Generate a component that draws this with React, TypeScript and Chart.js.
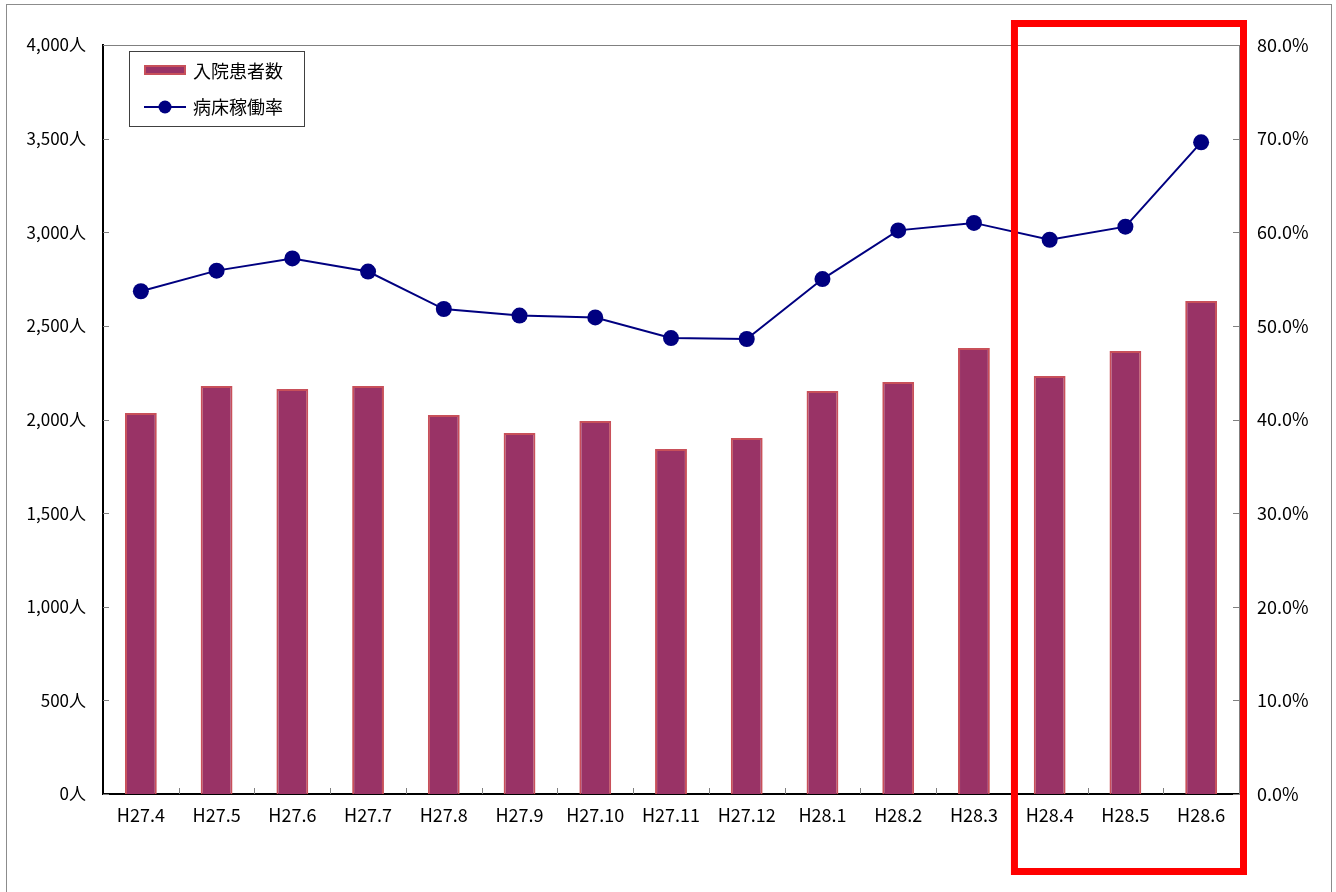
import React, { useEffect, useRef } from 'react';
import { Chart, registerables } from 'chart.js';

Chart.register(...registerables);

const categories = ['H27.4', 'H27.5', 'H27.6', 'H27.7', 'H27.8', 'H27.9', 'H27.10', 'H27.11', 'H27.12', 'H28.1', 'H28.2', 'H28.3', 'H28.4', 'H28.5', 'H28.6'];
const inpatients = [2035, 2179, 2163, 2179, 2024, 1928, 1992, 1842, 1901, 2152, 2200, 2382, 2232, 2366, 2633];
const occupancy = [53.7, 55.9, 57.2, 55.8, 51.8, 51.1, 50.9, 48.7, 48.6, 55.0, 60.2, 61.0, 59.2, 60.6, 69.6];
const seriesNames = ['入院患者数', '病床稼働率'];
const leftAxis = { min: 0, max: 4000, step: 500, unit: '人' };
const rightAxis = { min: 0, max: 80, step: 10, unit: '%' };
const highlightStart = 12; // H28.4

const FONT = "'Noto Sans CJK JP', 'Noto Sans', sans-serif";
const BAR_FILL = '#993366';
const BAR_BORDER = '#c8505a';
const LINE_COLOR = '#000080';

const overlayPlugin = {
  id: 'overlay',
  beforeDraw(chart: any) {
    const ctx = chart.ctx;
    ctx.save();
    ctx.fillStyle = '#ffffff';
    ctx.fillRect(0, 0, chart.width, chart.height);
    ctx.strokeStyle = '#8c8c8c';
    ctx.lineWidth = 1;
    ctx.strokeRect(6.5, 4.5, chart.width - 11, chart.height + 20);
    ctx.restore();
  },
  afterDraw(chart: any) {
    const ctx = chart.ctx;
    const { left, right, top, bottom } = chart.chartArea;
    const xs = chart.scales.x;
    const ys = chart.scales.y;
    const y1 = chart.scales.y1;
    const n = categories.length;
    const catW = (right - left) / n;
    ctx.save();
    // top border
    ctx.strokeStyle = '#808080';
    ctx.lineWidth = 1;
    ctx.beginPath();
    ctx.moveTo(left, Math.round(top) + 0.5);
    ctx.lineTo(right, Math.round(top) + 0.5);
    ctx.stroke();
    // inward tick marks
    ctx.beginPath();
    ys.ticks.forEach((t: any) => {
      const py = Math.round(ys.getPixelForValue(t.value)) + 0.5;
      ctx.moveTo(left, py);
      ctx.lineTo(left + 6, py);
    });
    y1.ticks.forEach((t: any) => {
      const py = Math.round(y1.getPixelForValue(t.value)) + 0.5;
      ctx.moveTo(right - 6, py);
      ctx.lineTo(right, py);
    });
    for (let i = 1; i < n; i++) {
      const px = Math.round(left + i * catW) + 0.5;
      ctx.moveTo(px, bottom);
      ctx.lineTo(px, bottom - 6);
    }
    ctx.stroke();

    // legend
    const lx = left + 26;
    const ly = top + 6;
    ctx.fillStyle = '#ffffff';
    ctx.fillRect(lx, ly, 175, 75);
    ctx.strokeStyle = '#404040';
    ctx.lineWidth = 1;
    ctx.strokeRect(Math.round(lx) + 0.5, Math.round(ly) + 0.5, 175, 75);
    // bar swatch
    ctx.fillStyle = BAR_FILL;
    ctx.fillRect(lx + 15, ly + 14, 42, 10);
    ctx.strokeStyle = BAR_BORDER;
    ctx.lineWidth = 2;
    ctx.strokeRect(lx + 16, ly + 15, 40, 8);
    // line swatch
    ctx.strokeStyle = LINE_COLOR;
    ctx.lineWidth = 2;
    ctx.beginPath();
    ctx.moveTo(lx + 15, ly + 56);
    ctx.lineTo(lx + 57, ly + 56);
    ctx.stroke();
    ctx.fillStyle = LINE_COLOR;
    ctx.beginPath();
    ctx.arc(lx + 36, ly + 56, 6.5, 0, Math.PI * 2);
    ctx.fill();
    ctx.fillStyle = '#000000';
    ctx.font = `18px ${FONT}`;
    ctx.textBaseline = 'middle';
    ctx.textAlign = 'left';
    ctx.fillText(seriesNames[0], lx + 64, ly + 20);
    ctx.fillText(seriesNames[1], lx + 64, ly + 56);

    // highlight rectangle
    const x1 = xs.getPixelForValue(highlightStart) - 0.465 * catW;
    const x2 = right + 4.5;
    const ry1 = top - 21.5;
    const ry2 = bottom + 77.5;
    ctx.strokeStyle = '#ff0000';
    ctx.lineWidth = 7;
    ctx.strokeRect(x1, ry1, x2 - x1, ry2 - ry1);
    ctx.restore();
  },
};

export default function App() {
  const ref = useRef<HTMLCanvasElement | null>(null);
  useEffect(() => {
    document.body.style.margin = '0';
    document.body.style.overflow = 'hidden';
    const canvas = ref.current;
    if (!canvas) return;
    const chart = new Chart(canvas, {
      type: 'bar',
      data: {
        labels: categories,
        datasets: [
          {
            type: 'line',
            label: seriesNames[1],
            data: occupancy,
            yAxisID: 'y1',
            borderColor: LINE_COLOR,
            backgroundColor: LINE_COLOR,
            borderWidth: 2,
            pointRadius: 8,
            pointHoverRadius: 8,
            pointBackgroundColor: LINE_COLOR,
            pointBorderWidth: 0,
            tension: 0,
            order: 1,
          } as any,
          {
            type: 'bar',
            label: seriesNames[0],
            data: inpatients,
            yAxisID: 'y',
            backgroundColor: BAR_FILL,
            borderColor: BAR_BORDER,
            borderWidth: 2,
            borderSkipped: 'bottom',
            categoryPercentage: 1,
            barPercentage: 0.42,
            order: 2,
          } as any,
        ],
      },
      options: {
        animation: false,
        responsive: true,
        maintainAspectRatio: false,
        layout: { padding: { top: 45, left: 0, right: 0, bottom: 0 } },
        plugins: { legend: { display: false }, tooltip: { enabled: false } },
        scales: {
          x: {
            type: 'category',
            grid: { display: false, drawTicks: false },
            border: { display: true, color: '#000000', width: 2 },
            ticks: { color: '#000000', font: { family: FONT, size: 18 }, padding: 10, maxRotation: 0, autoSkip: false },
            afterFit: (s: any) => { s.height = 98; },
          },
          y: {
            type: 'linear',
            position: 'left',
            min: leftAxis.min,
            max: leftAxis.max,
            grid: { display: false, drawTicks: false },
            border: { display: true, color: '#000000', width: 2 },
            ticks: {
              stepSize: leftAxis.step,
              color: '#000000',
              font: { family: FONT, size: 17 },
              padding: 17,
              callback: (v: any) => Number(v).toLocaleString('en-US') + leftAxis.unit,
            },
            afterFit: (s: any) => { s.width = 103; },
          },
          y1: {
            type: 'linear',
            position: 'right',
            min: rightAxis.min,
            max: rightAxis.max,
            grid: { display: false, drawTicks: false },
            border: { display: true, color: '#808080', width: 1 },
            ticks: {
              stepSize: rightAxis.step,
              color: '#000000',
              font: { family: FONT, size: 18 },
              padding: 18,
              callback: (v: any) => Number(v).toFixed(1) + rightAxis.unit,
            },
            afterFit: (s: any) => { s.width = 97; },
          },
        },
      },
      plugins: [overlayPlugin],
    });
    return () => chart.destroy();
  }, []);
  return (
    <div style={{ position: 'relative', width: 1336, height: 892 }}>
      <canvas ref={ref} />
    </div>
  );
}
